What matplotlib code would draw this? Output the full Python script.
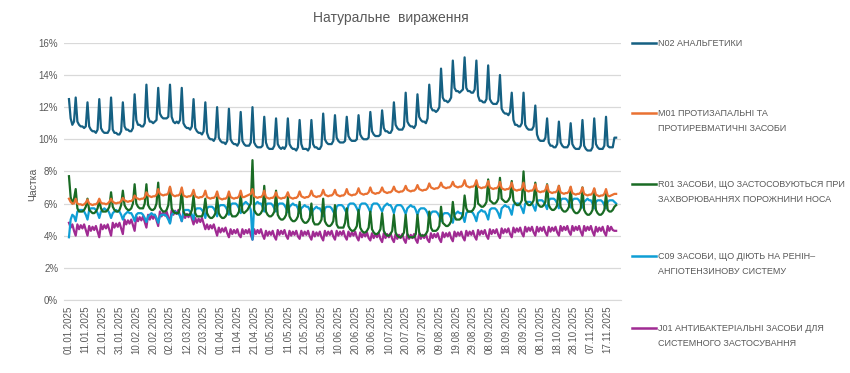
import matplotlib
matplotlib.use("Agg")
from matplotlib import pyplot as plt
from matplotlib.lines import Line2D
import pandas as pd

plt.rcParams['font.family'] = ['Liberation Sans', 'DejaVu Sans']

# daily shares, %, from 01.01.2025 (one line = Mon..Sun, first line starts Wed)
n02 = [12.5, 11.3, 10.9, 11.1, 12.6,
       11.1, 10.9, 10.8, 10.8, 10.7, 10.8, 12.3,
       10.8, 10.6, 10.5, 10.5, 10.4, 10.6, 12.5,
       10.7, 10.5, 10.4, 10.4, 10.4, 10.6, 12.6,
       10.6, 10.4, 10.4, 10.3, 10.3, 10.5, 12.3,
       10.8, 10.6, 10.6, 10.5, 10.5, 10.7, 12.8,
       11.2, 10.9, 10.9, 10.8, 10.8, 11.0, 13.4,
       11.4, 11.1, 11.1, 11.0, 11.1, 11.2, 13.2,
       11.6, 11.4, 11.3, 11.3, 11.3, 11.4, 13.4,
       11.4, 11.1, 11.0, 11.1, 11.0, 11.2, 13.2,
       11.0, 10.8, 10.7, 10.7, 10.6, 10.8, 12.5,
       10.7, 10.5, 10.4, 10.4, 10.3, 10.5, 12.3,
       10.4, 10.1, 10.0, 10.0, 9.9, 10.1, 12.0,
       10.1, 9.9, 9.8, 9.8, 9.7, 9.9, 11.9,
       10.0, 9.8, 9.7, 9.7, 9.6, 9.8, 11.7,
       9.9, 9.7, 9.6, 9.6, 9.6, 9.8, 12.0,
       9.8, 9.6, 9.5, 9.5, 9.5, 9.6, 11.4,
       9.8, 9.5, 9.4, 9.4, 9.4, 9.6, 11.3,
       9.7, 9.5, 9.4, 9.5, 9.4, 9.6, 11.3,
       9.7, 9.5, 9.4, 9.4, 9.3, 9.5, 11.2,
       9.7, 9.4, 9.4, 9.4, 9.3, 9.5, 11.2,
       9.7, 9.5, 9.5, 9.4, 9.4, 9.6, 11.6,
       10.0, 9.8, 9.7, 9.7, 9.7, 9.9, 11.5,
       10.1, 9.9, 9.8, 9.8, 9.8, 9.9, 11.4,
       10.2, 10.0, 9.9, 9.9, 9.9, 10.0, 11.5,
       10.3, 10.1, 10.0, 10.0, 10.0, 10.1, 11.7,
       10.5, 10.3, 10.2, 10.2, 10.2, 10.3, 11.8,
       10.7, 10.5, 10.5, 10.4, 10.4, 10.6, 12.3,
       10.9, 10.7, 10.6, 10.6, 10.6, 10.8, 12.9,
       11.1, 10.9, 10.8, 10.8, 10.7, 10.9, 12.8,
       11.4, 11.2, 11.1, 11.1, 11.0, 11.3, 13.4,
       12.0, 11.8, 11.8, 11.7, 11.8, 12.0, 14.4,
       12.6, 12.4, 12.4, 12.3, 12.4, 12.6, 14.9,
       13.2, 13.0, 13.0, 12.9, 13.0, 13.1, 15.1,
       13.2, 13.0, 13.0, 12.9, 12.9, 13.1, 14.9,
       12.7, 12.4, 12.4, 12.3, 12.3, 12.5, 14.6,
       12.5, 12.3, 12.2, 12.2, 12.2, 12.4, 14.0,
       11.9, 11.7, 11.6, 11.6, 11.5, 11.7, 12.9,
       11.2, 10.9, 10.9, 10.8, 10.8, 11.0, 12.9,
       10.9, 10.7, 10.6, 10.6, 10.6, 10.8, 12.1,
       10.3, 10.0, 9.9, 9.9, 9.9, 10.1, 11.3,
       9.8, 9.6, 9.6, 9.5, 9.5, 9.7, 11.1,
       9.8, 9.6, 9.5, 9.5, 9.5, 9.7, 11.0,
       9.7, 9.5, 9.4, 9.4, 9.4, 9.6, 11.2,
       9.6, 9.4, 9.3, 9.3, 9.3, 9.5, 11.3,
       9.7, 9.5, 9.4, 9.4, 9.4, 9.6, 11.4,
       9.6, 9.5, 9.5, 9.5, 10.1, 10.1]

m01 = [6.3, 6.1, 6.0, 6.0, 6.3,
       6.0, 5.95, 5.95, 5.9, 5.95, 6.05, 6.25,
       6.0, 5.95, 5.9, 5.95, 5.95, 6.05, 6.3,
       6.05, 6.0, 6.0, 5.95, 6.0, 6.1, 6.3,
       6.1, 6.05, 6.0, 6.05, 6.05, 6.15, 6.35,
       6.2, 6.15, 6.1, 6.15, 6.15, 6.25, 6.5,
       6.35, 6.3, 6.25, 6.3, 6.3, 6.4, 6.7,
       6.5, 6.45, 6.4, 6.45, 6.45, 6.55, 6.9,
       6.6, 6.55, 6.5, 6.55, 6.55, 6.65, 7.05,
       6.6, 6.5, 6.45, 6.5, 6.5, 6.6, 7.0,
       6.5, 6.45, 6.4, 6.45, 6.45, 6.55, 6.85,
       6.45, 6.4, 6.35, 6.4, 6.4, 6.5, 6.8,
       6.4, 6.35, 6.3, 6.35, 6.35, 6.45, 6.75,
       6.35, 6.3, 6.25, 6.3, 6.3, 6.4, 6.75,
       6.4, 6.35, 6.3, 6.35, 6.35, 6.45, 6.8,
       6.4, 6.4, 6.45, 6.5, 6.55, 6.6, 6.9,
       6.45, 6.4, 6.35, 6.4, 6.4, 6.5, 6.8,
       6.4, 6.35, 6.3, 6.35, 6.35, 6.45, 6.7,
       6.4, 6.35, 6.3, 6.35, 6.35, 6.45, 6.7,
       6.4, 6.35, 6.3, 6.35, 6.35, 6.45, 6.75,
       6.45, 6.4, 6.35, 6.4, 6.4, 6.5, 6.8,
       6.5, 6.45, 6.4, 6.45, 6.45, 6.55, 6.85,
       6.55, 6.5, 6.45, 6.5, 6.5, 6.6, 6.85,
       6.55, 6.5, 6.45, 6.5, 6.5, 6.6, 6.9,
       6.6, 6.55, 6.5, 6.55, 6.55, 6.65, 6.95,
       6.65, 6.6, 6.55, 6.6, 6.6, 6.7, 7.0,
       6.7, 6.65, 6.6, 6.65, 6.65, 6.75, 7.0,
       6.75, 6.7, 6.65, 6.7, 6.7, 6.8, 7.05,
       6.8, 6.75, 6.7, 6.75, 6.75, 6.85, 7.1,
       6.85, 6.8, 6.75, 6.8, 6.8, 6.9, 7.15,
       6.9, 6.85, 6.8, 6.85, 6.85, 6.95, 7.25,
       7.0, 6.95, 6.9, 6.95, 6.95, 7.05, 7.3,
       7.05, 7.0, 6.95, 7.0, 7.0, 7.1, 7.35,
       7.1, 7.05, 7.0, 7.05, 7.05, 7.15, 7.45,
       7.1, 7.05, 7.0, 7.05, 7.05, 7.15, 7.45,
       7.05, 7.0, 6.95, 7.0, 7.0, 7.1, 7.4,
       7.0, 6.95, 6.9, 6.95, 6.95, 7.05, 7.35,
       6.95, 6.9, 6.85, 6.9, 6.9, 7.0, 7.3,
       6.9, 6.85, 6.8, 6.85, 6.85, 6.95, 7.3,
       6.85, 6.8, 6.75, 6.8, 6.8, 6.9, 7.2,
       6.8, 6.75, 6.7, 6.75, 6.75, 6.85, 7.15,
       6.75, 6.7, 6.65, 6.7, 6.7, 6.8, 7.1,
       6.7, 6.65, 6.6, 6.65, 6.65, 6.75, 7.05,
       6.65, 6.6, 6.55, 6.6, 6.6, 6.7, 7.0,
       6.6, 6.55, 6.5, 6.55, 6.55, 6.65, 6.95,
       6.55, 6.5, 6.45, 6.5, 6.5, 6.6, 6.9,
       6.5, 6.45, 6.5, 6.55, 6.6, 6.6]

r01 = [7.7, 6.4, 6.0, 6.3, 6.9,
       5.7, 5.5, 5.5, 5.5, 5.6, 5.8, 6.3,
       5.6, 5.5, 5.4, 5.4, 5.5, 5.7, 6.2,
       5.7, 5.5, 5.5, 5.5, 5.6, 5.8, 6.7,
       5.8, 5.6, 5.5, 5.5, 5.6, 5.9, 6.8,
       5.9, 5.7, 5.6, 5.6, 5.7, 6.0, 7.2,
       6.0, 5.8, 5.7, 5.7, 5.7, 6.0, 7.2,
       5.9, 5.7, 5.6, 5.6, 5.7, 6.0, 7.3,
       5.8, 5.6, 5.5, 5.5, 5.6, 5.9, 7.0,
       5.7, 5.5, 5.4, 5.4, 5.4, 5.7, 6.9,
       5.5, 5.3, 5.3, 5.3, 5.3, 5.6, 6.5,
       5.4, 5.2, 5.2, 5.2, 5.2, 5.5, 6.3,
       5.4, 5.2, 5.1, 5.1, 5.2, 5.4, 6.4,
       5.4, 5.2, 5.1, 5.1, 5.2, 5.4, 6.5,
       5.4, 5.2, 5.2, 5.2, 5.3, 5.5, 6.6,
       5.5, 5.4, 5.5, 5.6, 5.8, 6.0, 8.7,
       5.6, 5.4, 5.3, 5.3, 5.4, 5.6, 7.1,
       5.5, 5.3, 5.2, 5.2, 5.3, 5.5, 6.8,
       5.3, 5.1, 5.0, 5.0, 5.1, 5.3, 6.4,
       5.2, 5.0, 4.9, 4.9, 5.0, 5.2, 6.1,
       5.1, 4.9, 4.8, 4.8, 4.9, 5.1, 6.0,
       4.9, 4.7, 4.7, 4.7, 4.8, 5.0, 6.3,
       4.9, 4.7, 4.6, 4.6, 4.7, 4.9, 5.9,
       4.7, 4.5, 4.5, 4.5, 4.5, 4.8, 5.7,
       4.6, 4.4, 4.3, 4.3, 4.4, 4.6, 5.6,
       4.5, 4.3, 4.2, 4.2, 4.3, 4.5, 5.5,
       4.4, 4.2, 4.1, 4.1, 4.2, 4.4, 5.4,
       4.3, 4.1, 4.0, 4.0, 4.1, 4.3, 5.3,
       4.2, 4.0, 3.9, 3.9, 4.0, 4.2, 5.3,
       4.1, 3.9, 3.9, 3.9, 3.9, 4.1, 5.3,
       4.2, 4.0, 4.0, 4.0, 4.1, 4.3, 5.5,
       4.5, 4.3, 4.3, 4.3, 4.4, 4.6, 5.8,
       4.8, 4.7, 4.6, 4.6, 4.7, 4.9, 6.1,
       5.2, 5.0, 5.0, 5.0, 5.1, 5.3, 6.5,
       5.7, 5.5, 5.5, 5.5, 5.6, 5.8, 7.3,
       6.0, 5.9, 5.8, 5.8, 5.9, 6.1, 7.5,
       6.2, 6.1, 6.0, 6.0, 6.1, 6.3, 7.6,
       6.3, 6.2, 6.1, 6.1, 6.2, 6.4, 7.4,
       6.2, 6.0, 5.9, 5.9, 6.0, 6.2, 8.0,
       6.2, 6.0, 5.9, 5.9, 6.0, 6.2, 7.3,
       6.1, 5.9, 5.8, 5.8, 5.9, 6.1, 7.2,
       5.9, 5.7, 5.6, 5.6, 5.7, 5.9, 7.1,
       5.8, 5.6, 5.5, 5.5, 5.6, 5.8, 7.0,
       5.7, 5.5, 5.4, 5.4, 5.5, 5.7, 7.0,
       5.6, 5.4, 5.3, 5.3, 5.4, 5.6, 6.9,
       5.6, 5.4, 5.3, 5.3, 5.4, 5.6, 6.6,
       5.6, 5.5, 5.5, 5.6, 5.8, 5.9]

c09 = [3.9, 5.0, 5.3, 5.2, 4.9,
       5.5, 5.6, 5.6, 5.6, 5.5, 5.3, 5.0,
       5.6, 5.7, 5.7, 5.7, 5.6, 5.4, 5.1,
       5.5, 5.6, 5.7, 5.6, 5.6, 5.4, 5.1,
       5.4, 5.5, 5.6, 5.5, 5.5, 5.3, 5.0,
       5.3, 5.4, 5.5, 5.4, 5.4, 5.2, 4.9,
       5.3, 5.4, 5.4, 5.4, 5.3, 5.1, 4.85,
       5.2, 5.3, 5.4, 5.3, 5.3, 5.1, 4.8,
       5.2, 5.3, 5.3, 5.3, 5.2, 5.0, 4.75,
       5.3, 5.4, 5.5, 5.4, 5.4, 5.2, 4.9,
       5.5, 5.6, 5.6, 5.6, 5.5, 5.3, 5.0,
       5.6, 5.7, 5.7, 5.7, 5.6, 5.4, 5.1,
       5.7, 5.8, 5.8, 5.8, 5.7, 5.5, 5.2,
       5.8, 5.9, 5.9, 5.9, 5.8, 5.6, 5.3,
       5.9, 6.0, 6.0, 6.0, 5.9, 5.7, 5.4,
       5.9, 6.0, 6.1, 6.0, 5.9, 5.6, 3.75,
       5.9, 6.0, 6.1, 6.0, 6.0, 5.8, 5.5,
       5.9, 6.0, 6.0, 6.0, 5.9, 5.7, 5.5,
       5.9, 6.0, 6.0, 6.0, 5.9, 5.7, 5.45,
       5.8, 5.9, 6.0, 5.9, 5.9, 5.7, 5.4,
       5.7, 5.8, 5.9, 5.8, 5.8, 5.6, 5.3,
       5.6, 5.7, 5.8, 5.7, 5.7, 5.5, 5.2,
       5.7, 5.8, 5.8, 5.8, 5.7, 5.5, 5.3,
       5.8, 5.9, 5.9, 5.9, 5.8, 5.6, 5.4,
       5.9, 6.0, 6.0, 6.0, 5.9, 5.7, 5.45,
       5.9, 6.0, 6.0, 6.0, 5.9, 5.7, 5.45,
       5.9, 6.0, 6.0, 6.0, 5.9, 5.7, 5.5,
       5.8, 5.9, 6.0, 5.9, 5.9, 5.7, 5.4,
       5.8, 5.9, 5.9, 5.9, 5.8, 5.6, 5.35,
       5.7, 5.8, 5.9, 5.8, 5.8, 5.6, 5.3,
       5.6, 5.7, 5.7, 5.7, 5.6, 5.4, 5.1,
       5.4, 5.5, 5.5, 5.5, 5.4, 5.2, 4.9,
       5.3, 5.4, 5.4, 5.4, 5.3, 5.1, 4.8,
       5.3, 5.4, 5.5, 5.4, 5.4, 5.2, 4.85,
       5.4, 5.5, 5.5, 5.5, 5.4, 5.2, 4.9,
       5.4, 5.5, 5.6, 5.5, 5.5, 5.3, 5.0,
       5.6, 5.7, 5.7, 5.7, 5.6, 5.4, 5.1,
       5.7, 5.8, 5.9, 5.8, 5.8, 5.6, 5.3,
       5.9, 6.0, 6.0, 6.0, 5.9, 5.7, 5.4,
       6.0, 6.1, 6.1, 6.1, 6.0, 5.8, 5.55,
       6.1, 6.2, 6.2, 6.2, 6.1, 5.9, 5.65,
       6.2, 6.3, 6.3, 6.3, 6.2, 6.0, 5.7,
       6.2, 6.3, 6.3, 6.3, 6.2, 6.0, 5.75,
       6.2, 6.3, 6.3, 6.3, 6.2, 6.0, 5.75,
       6.1, 6.2, 6.3, 6.2, 6.2, 6.0, 5.7,
       6.1, 6.2, 6.2, 6.2, 6.1, 5.9, 5.7,
       6.1, 6.2, 6.2, 6.2, 6.1, 6.0]

j01 = [4.8, 4.5, 4.7, 4.3, 4.0,
       4.7, 4.4, 4.65, 4.45, 4.7, 4.35, 4.0,
       4.6, 4.3, 4.55, 4.35, 4.6, 4.25, 3.9,
       4.7, 4.4, 4.65, 4.45, 4.7, 4.35, 4.0,
       4.8, 4.5, 4.75, 4.55, 4.8, 4.45, 4.1,
       5.0, 4.7, 4.95, 4.75, 5.0, 4.65, 4.3,
       5.2, 4.9, 5.15, 4.95, 5.2, 4.85, 4.5,
       5.3, 5.0, 5.25, 5.05, 5.3, 4.95, 4.6,
       5.5, 5.2, 5.45, 5.25, 5.5, 5.15, 4.8,
       5.6, 5.3, 5.55, 5.35, 5.6, 5.25, 4.9,
       5.4, 5.1, 5.35, 5.15, 5.4, 5.05, 4.7,
       5.1, 4.8, 5.05, 4.85, 5.1, 4.75, 4.4,
       4.7, 4.4, 4.65, 4.45, 4.7, 4.35, 4.0,
       4.5, 4.2, 4.45, 4.25, 4.5, 4.15, 3.9,
       4.4, 4.1, 4.35, 4.15, 4.4, 4.05, 3.9,
       4.4, 4.1, 4.35, 4.15, 4.4, 4.05, 3.75,
       4.4, 4.1, 4.35, 4.15, 4.4, 4.05, 3.8,
       4.3, 4.0, 4.25, 4.05, 4.3, 3.95, 3.75,
       4.35, 4.05, 4.3, 4.1, 4.35, 4.0, 3.8,
       4.3, 4.0, 4.25, 4.05, 4.3, 3.95, 3.8,
       4.3, 4.0, 4.25, 4.05, 4.3, 3.95, 3.75,
       4.25, 3.95, 4.2, 4.0, 4.25, 3.9, 3.7,
       4.3, 4.0, 4.25, 4.05, 4.3, 3.95, 3.75,
       4.3, 4.0, 4.25, 4.05, 4.3, 3.95, 3.75,
       4.25, 3.95, 4.2, 4.0, 4.25, 3.9, 3.7,
       4.2, 3.9, 4.15, 3.95, 4.2, 3.85, 3.7,
       4.15, 3.85, 4.1, 3.9, 4.15, 3.8, 3.6,
       4.15, 3.85, 4.1, 3.9, 4.15, 3.8, 3.6,
       4.1, 3.8, 4.05, 3.85, 4.1, 3.75, 3.55,
       4.1, 3.8, 4.05, 3.85, 4.1, 3.75, 3.55,
       4.1, 3.8, 4.05, 3.85, 4.1, 3.75, 3.6,
       4.15, 3.85, 4.1, 3.9, 4.15, 3.8, 3.6,
       4.2, 3.9, 4.15, 3.95, 4.2, 3.85, 3.65,
       4.25, 3.95, 4.2, 4.0, 4.25, 3.9, 3.7,
       4.3, 4.0, 4.25, 4.05, 4.3, 3.95, 3.75,
       4.35, 4.05, 4.3, 4.1, 4.35, 4.0, 3.8,
       4.4, 4.1, 4.35, 4.15, 4.4, 4.05, 3.85,
       4.45, 4.15, 4.4, 4.2, 4.45, 4.1, 3.9,
       4.5, 4.2, 4.45, 4.25, 4.5, 4.15, 3.95,
       4.55, 4.25, 4.5, 4.3, 4.55, 4.2, 4.0,
       4.55, 4.25, 4.5, 4.3, 4.55, 4.2, 4.0,
       4.55, 4.25, 4.5, 4.3, 4.55, 4.2, 4.0,
       4.6, 4.3, 4.55, 4.35, 4.6, 4.25, 4.05,
       4.6, 4.3, 4.55, 4.35, 4.6, 4.25, 4.0,
       4.6, 4.3, 4.55, 4.35, 4.6, 4.25, 4.0,
       4.55, 4.25, 4.5, 4.3, 4.55, 4.2, 4.0,
       4.6, 4.3, 4.55, 4.35, 4.3, 4.3]

names = ['N02 АНАЛЬГЕТИКИ',
         'M01 ПРОТИЗАПАЛЬНІ ТА\nПРОТИРЕВМАТИЧНІ ЗАСОБИ',
         'R01 ЗАСОБИ, ЩО ЗАСТОСОВУЮТЬСЯ ПРИ\nЗАХВОРЮВАННЯХ ПОРОЖНИНИ НОСА',
         'C09 ЗАСОБИ, ЩО ДІЮТЬ НА РЕНІН–\nАНГІОТЕНЗИНОВУ СИСТЕМУ',
         'J01 АНТИБАКТЕРІАЛЬНІ ЗАСОБИ ДЛЯ\nСИСТЕМНОГО ЗАСТОСУВАННЯ']
colors = ['#156082', '#E97132', '#196B24', '#0F9ED5', '#A02B93']
series = [n02, m01, r01, c09, j01]

dates = pd.date_range('2025-01-01', periods=len(n02), freq='D')
tick_idx = list(range(0, len(dates), 10))
tick_lab = [dates[i].strftime('%d.%m.%Y') for i in tick_idx]

grey = '#595959'
fig = plt.figure(figsize=(8.5, 3.73), dpi=100)
ax = fig.add_axes([0.075, 0.196, 0.655, 0.689])

# draw in reverse so N02 is on top like the original
for k in range(len(series) - 1, -1, -1):
    ax.plot(range(len(series[k])), series[k], color=colors[k], linewidth=1.6,
            solid_joinstyle='round')

ax.set_xlim(-3.1, len(n02) + 1.6)
ax.set_ylim(0, 16)
ax.set_yticks(range(0, 17, 2))
ax.set_yticklabels([f'{v}%' for v in range(0, 17, 2)], fontsize=7, color=grey)
ax.set_xticks(tick_idx)
ax.set_xticklabels(tick_lab, rotation=90, fontsize=7, color=grey)
ax.tick_params(axis='both', length=0, pad=4)
ax.grid(axis='y', color='#d9d9d9', linewidth=0.9)
ax.set_axisbelow(True)
for s in ['top', 'right', 'left']:
    ax.spines[s].set_visible(False)
ax.spines['bottom'].set_color('#d9d9d9')
ax.set_ylabel('Частка', fontsize=7.5, color=grey, labelpad=0)
ax.yaxis.set_label_coords(-0.045, 0.45)

fig.text(0.46, 0.952, 'Натуральне  вираження', ha='center', va='center',
         fontsize=10, color=grey)

# legend on the right, drawn by hand
leg_y = [43, 113, 184, 256, 328]
for k in range(len(names)):
    yf = 1 - leg_y[k] / 373
    fig.add_artist(Line2D([632 / 850, 656 / 850], [yf, yf], color=colors[k],
                          linewidth=1.8, transform=fig.transFigure))
    two = '\n' in names[k]
    fig.text(658 / 850, yf + (0.012 if two else 0), names[k], ha='left',
             va='top' if two else 'center', fontsize=6.5, color=grey,
             linespacing=1.9, transform=fig.transFigure)

fig.savefig('out.png', dpi=100)
